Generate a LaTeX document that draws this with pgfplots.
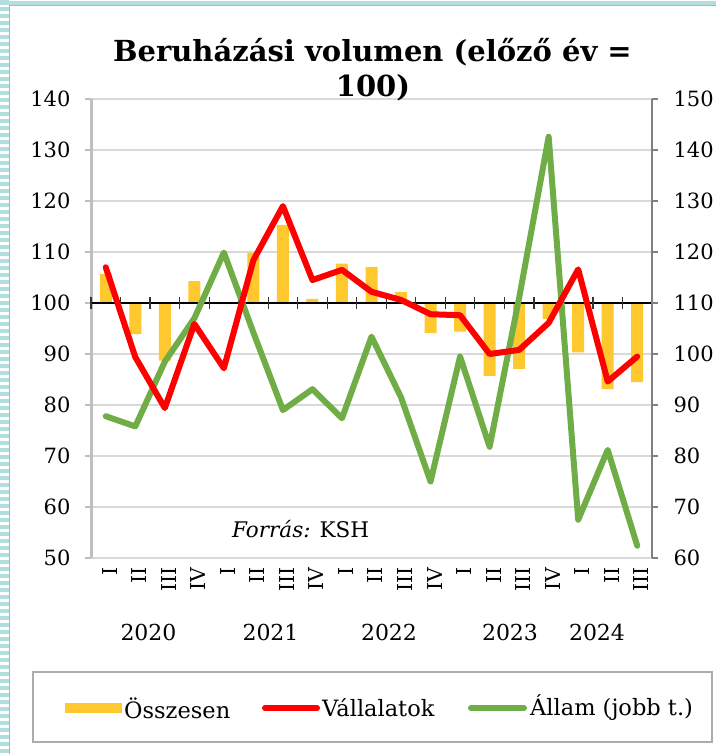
\documentclass[border=0pt]{standalone}
\usepackage{fontspec}
\setmainfont{DejaVu Serif}
\usepackage{pgfplots}
\pgfplotsset{compat=1.18}
\usepackage{pgfplotstable}

\definecolor{barY}{RGB}{255,200,46}
\definecolor{lnR}{RGB}{255,0,0}
\definecolor{lnG}{RGB}{112,173,71}
\definecolor{frameC}{RGB}{178,222,226}
\definecolor{gridC}{RGB}{217,217,217}
\definecolor{laxC}{RGB}{191,191,191}
\definecolor{raxC}{RGB}{128,128,128}

\pgfplotstableread{
i tot vall allam
0 105.7 107.0 87.8
1 93.9 89.4 85.8
2 88.7 79.4 98.5
3 104.3 95.9 107.0
4 99.8 87.2 119.9
5 109.9 108.4 104.2
6 115.3 119.0 89.0
7 100.8 104.5 93.1
8 107.7 106.5 87.4
9 107.1 102.2 103.4
10 102.2 100.6 91.5
11 94.1 97.8 75.0
12 94.4 97.6 99.5
13 85.7 90.0 81.8
14 87.1 90.8 111.0
15 96.9 96.1 142.6
16 90.3 106.6 67.5
17 83.1 84.6 81.2
18 84.5 89.5 62.4
}\data

\pgfplotsset{
  common/.style={
    at={(91pt,196pt)}, anchor=south west, scale only axis,
    width=561pt, height=459pt,
    xmin=-0.5, xmax=18.5,
  }
}

\begin{document}
\begin{tikzpicture}[x=1pt,y=1pt]
\fill[white] (0,0) rectangle (716,754);
\path[use as bounding box] (0,0) rectangle (716,754);

% frame decoration
\draw[frameC, line width=9pt, dash pattern=on 4pt off 3pt] (4.5,754) -- (4.5,0);
\fill[frameC] (0,749) rectangle (716,752.5);
\draw[gray!60, line width=1pt] (9.5,0) -- (9.5,748.5) -- (716,748.5);

% axis 1: bars, grid, left axis, x labels
\begin{axis}[common,
  ymin=-50, ymax=40,
  axis y line*=left, axis x line*=bottom,
  x axis line style={draw=none},
  y axis line style={draw=laxC, line width=3pt},
  xtick={0,...,18},
  xticklabels={I,II,III,IV,I,II,III,IV,I,II,III,IV,I,II,III,IV,I,II,III},
  x tick style={draw=none},
  xticklabel style={rotate=90, anchor=east, font=\fontsize{20.5}{20.5}\selectfont, yshift=-4pt},
  ytick={-50,-40,...,40},
  yticklabel={\pgfmathparse{int(\tick+100)}\pgfmathresult},
  yticklabel style={font=\fontsize{21}{21}\selectfont, xshift=-11pt},
  y tick style={draw=laxC, line width=1.2pt},
  tick align=outside, major tick length=6pt,
  ymajorgrids, grid style={draw=gridC, line width=1.5pt},
  clip=false,
]
\addplot[ybar, bar width=12pt, bar shift=0pt, fill=barY, draw=none]
  table[x=i, y expr=\thisrow{tot}-100] {\data};
\draw[black, line width=1.3pt] (axis cs:-0.5,0) -- (axis cs:18.5,0);
\pgfplotsinvokeforeach{-0.5,0.5,1.5,2.5,3.5,4.5,5.5,6.5,7.5,8.5,9.5,10.5,11.5,12.5,13.5,14.5,15.5,16.5,17.5,18.5}{
  \draw[black!80, line width=1.2pt] ([yshift=-6pt]axis cs:#1,0) -- ([yshift=6pt]axis cs:#1,0);
}
\end{axis}

% axis 2: right axis with green line
\begin{axis}[common,
  ymin=60, ymax=150,
  axis y line*=right, axis x line=none,
  y axis line style={draw=raxC, line width=2.5pt},
  ytick={60,70,...,150},
  yticklabel={\pgfmathparse{int(\tick)}\pgfmathresult},
  yticklabel style={font=\fontsize{21}{21}\selectfont, xshift=12pt},
  y tick style={draw=raxC, line width=1.2pt},
  tick align=outside, major tick length=6pt,
]
\addplot[lnG, line width=6pt, line join=round, line cap=round]
  table[x=i, y=allam] {\data};
\end{axis}

% axis 3: red line on top
\begin{axis}[common, ymin=50, ymax=140, hide axis]
\addplot[lnR, line width=6pt, line join=round, line cap=round]
  table[x=i, y=vall] {\data};
\end{axis}

% title
\node[anchor=base, font=\bfseries\fontsize{29}{29}\selectfont] at (372.5,692) {Beruházási volumen (előző év =};
\node[anchor=base, font=\bfseries\fontsize{29}{29}\selectfont] at (373,657) {100)};

% source
\node[anchor=base west, inner sep=0pt, font=\fontsize{21.5}{21.5}\selectfont] at (232,216) {\textit{Forrás:} KSH};

% years
\begin{scope}[every node/.style={font=\fontsize{22}{22}\selectfont, anchor=center}]
\node at (148.5,122) {2020};
\node at (270.5,122) {2021};
\node at (389,122) {2022};
\node at (510,122) {2023};
\node at (597,122) {2024};
\end{scope}

% legend
\draw[gray!65, line width=2pt] (33,12) rectangle (712,82);
\fill[barY] (65,41) rectangle (122,51);
\draw[lnR, line width=6pt, line cap=round] (265,46) -- (317,46);
\draw[lnG, line width=6pt, line cap=round] (471,46) -- (524,46);
\begin{scope}[every node/.style={font=\fontsize{22.5}{22.5}\selectfont, anchor=west, inner sep=0pt}]
\node at (124,46) {Összesen};
\node at (322,46) {Vállalatok};
\node at (530,46) {Állam (jobb t.)};
\end{scope}
\end{tikzpicture}
\end{document}
